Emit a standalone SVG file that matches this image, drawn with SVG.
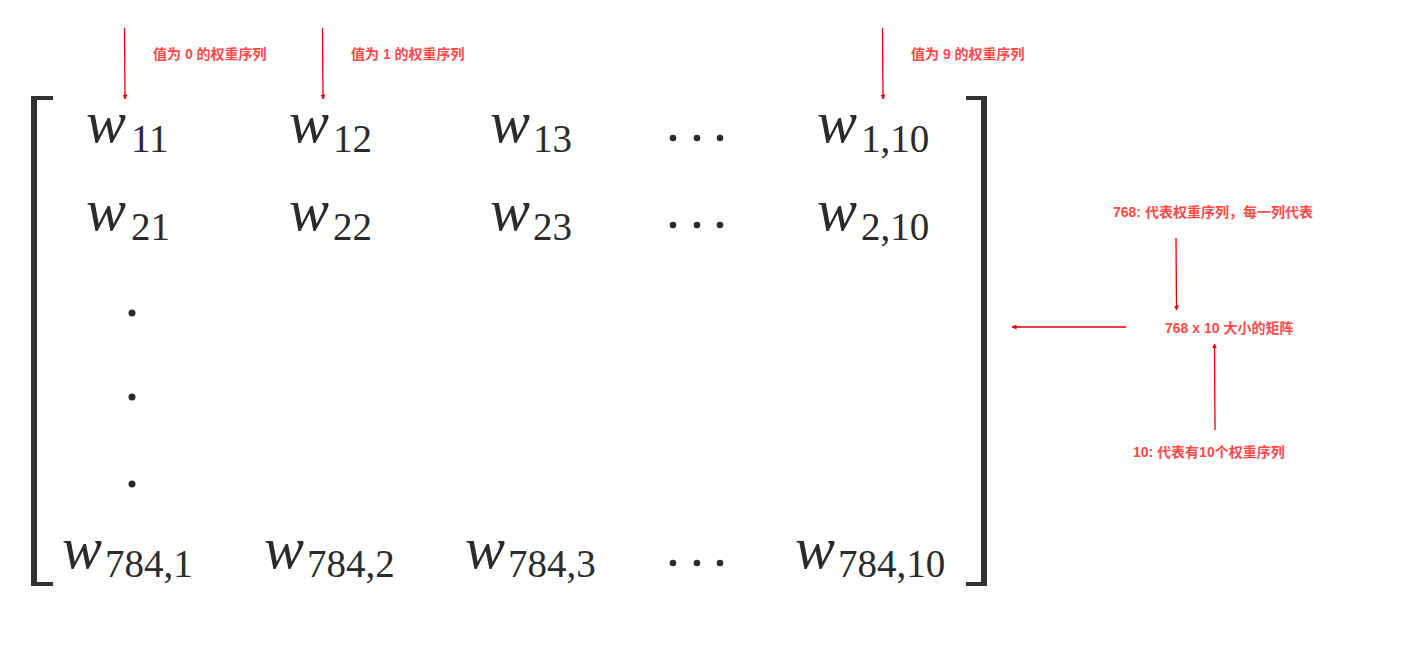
<svg xmlns="http://www.w3.org/2000/svg" width="1427" height="668" viewBox="0 0 1427 668">
<style>
.w{font-family:"Liberation Serif","Times New Roman",serif;font-style:italic;font-size:60px;fill:#2b2b2b}
.s{font-family:"Liberation Serif","Times New Roman",serif;font-size:39px;fill:#2b2b2b}
.lab{font-family:"Liberation Sans","Noto Sans CJK SC",sans-serif;font-weight:bold;font-size:14px;fill:#ff4a4a}
.arr{stroke:#e60000;stroke-width:1.3;fill:none;marker-end:url(#ah)}
.dot{fill:#2b2b2b}
</style>
<defs>
<marker id="ah" viewBox="0 0 10 10" refX="9" refY="5" markerWidth="5" markerHeight="5" orient="auto" markerUnits="userSpaceOnUse">
<path d="M0,0 L10,5 L0,10 Z" fill="#e60000"/>
</marker>
</defs>
<rect width="1427" height="668" fill="#ffffff"/>
<g id="brackets" fill="#333333">
<path d="M31,96 H53 V100 H37 V582 H53 V586 H31 Z"/>
<path d="M966,96 H987 V586 H966 V582 H981 V100 H966 Z"/>
</g>
<g id="row1">
<text class="w" x="86" y="142">w</text><text class="s" x="131" y="152">11</text>
<text class="w" x="289" y="142">w</text><text class="s" x="333" y="152">12</text>
<text class="w" x="490" y="142">w</text><text class="s" x="533" y="152">13</text>
<circle class="dot" cx="673" cy="138" r="3.3"/><circle class="dot" cx="697" cy="138" r="3.3"/><circle class="dot" cx="720" cy="138" r="3.3"/>
<text class="w" x="817" y="142">w</text><text class="s" x="861" y="152">1,10</text>
</g>
<g id="row2">
<text class="w" x="86" y="230">w</text><text class="s" x="131" y="240">21</text>
<text class="w" x="289" y="230">w</text><text class="s" x="333" y="240">22</text>
<text class="w" x="490" y="230">w</text><text class="s" x="533" y="240">23</text>
<circle class="dot" cx="673" cy="225" r="3.3"/><circle class="dot" cx="697" cy="225" r="3.3"/><circle class="dot" cx="720" cy="225" r="3.3"/>
<text class="w" x="817" y="230">w</text><text class="s" x="861" y="240">2,10</text>
</g>
<g id="vdots">
<circle class="dot" cx="132" cy="313" r="3.5"/>
<circle class="dot" cx="132" cy="397" r="3.5"/>
<circle class="dot" cx="132" cy="484" r="3.5"/>
</g>
<g id="rowlast">
<text class="w" x="62" y="568">w</text><text class="s" x="105" y="577">784,1</text>
<text class="w" x="264" y="568">w</text><text class="s" x="307" y="577">784,2</text>
<text class="w" x="465" y="568">w</text><text class="s" x="508" y="577">784,3</text>
<circle class="dot" cx="673" cy="563" r="3.3"/><circle class="dot" cx="697" cy="563" r="3.3"/><circle class="dot" cx="720" cy="563" r="3.3"/>
<text class="w" x="795" y="568">w</text><text class="s" x="838" y="577">784,10</text>
</g>
<g id="labels">
<text class="lab" x="153" y="59">值为 0 的权重序列</text>
<text class="lab" x="351" y="59">值为 1 的权重序列</text>
<text class="lab" x="911" y="59">值为 9 的权重序列</text>
<text class="lab" x="1113" y="217">768: 代表权重序列，每一列代表</text>
<text class="lab" x="1165" y="333">768 x 10 大小的矩阵</text>
<text class="lab" x="1133" y="457">10: 代表有10个权重序列</text>
</g>
<g id="connectors">
<line class="arr" x1="124.5" y1="28" x2="125" y2="99"/>
<line class="arr" x1="322.5" y1="28" x2="323" y2="99"/>
<line class="arr" x1="882.5" y1="28" x2="883" y2="99"/>
<line class="arr" x1="1176" y1="238" x2="1176.5" y2="310"/>
<line class="arr" x1="1126" y1="327" x2="1012" y2="327"/>
<line class="arr" x1="1215" y1="430" x2="1214.5" y2="344"/>
</g>
</svg>
